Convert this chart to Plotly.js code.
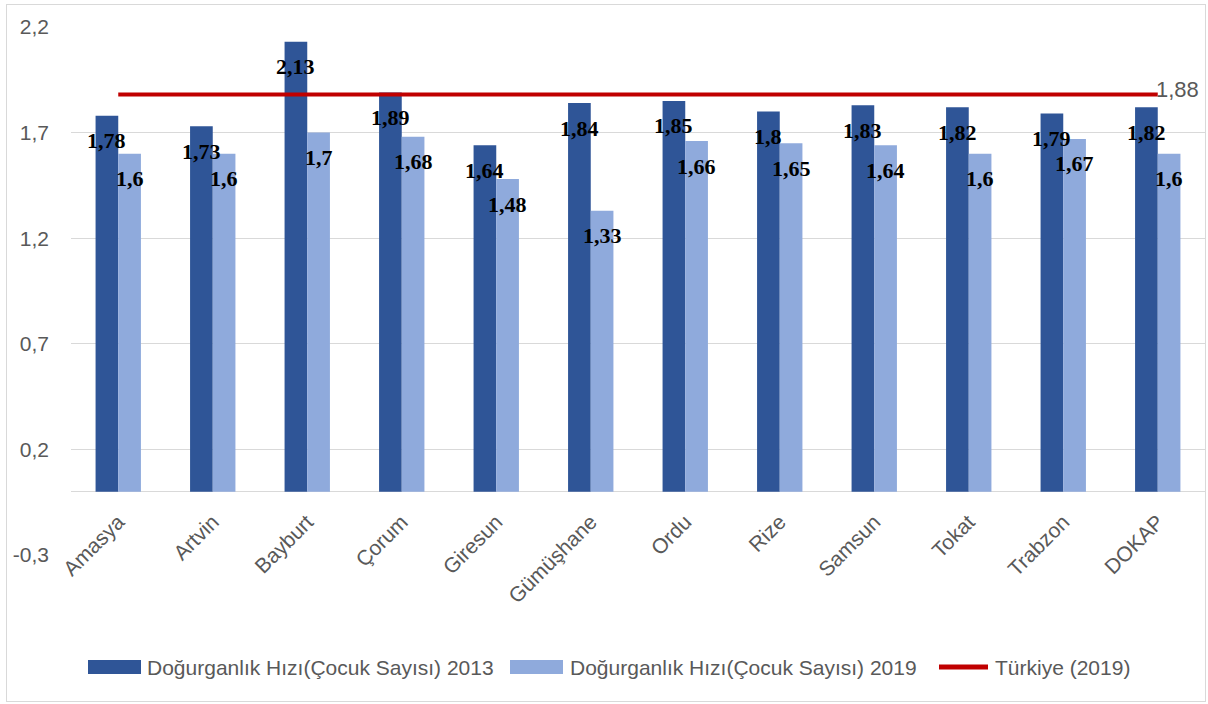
<!DOCTYPE html>
<html>
<head>
<meta charset="utf-8">
<script src="https://cdn.plot.ly/plotly-3.0.1.min.js"></script>
<style>
  html, body { margin: 0; padding: 0; background: #fff; }
  #chart { position: absolute; left: 0; top: 0; width: 1208px; height: 704px; }
  #frame { position: absolute; left: 6px; top: 4px; width: 1198px; height: 696px; border: 1px solid #d9d9d9; pointer-events: none; }
</style>
</head>
<body>
<div id="chart"></div>
<div id="frame"></div>
<script>
const categories = ["Amasya","Artvin","Bayburt","Çorum","Giresun","Gümüşhane","Ordu","Rize","Samsun","Tokat","Trabzon","DOKAP"];
const values2013 = [1.78,1.73,2.13,1.89,1.64,1.84,1.85,1.8,1.83,1.82,1.79,1.82];
const values2019 = [1.6,1.6,1.7,1.68,1.48,1.33,1.66,1.65,1.64,1.6,1.67,1.6];
const turkiye2019 = [1.88,1.88,1.88,1.88,1.88,1.88,1.88,1.88,1.88,1.88,1.88,1.88];
const seriesNames = ["Doğurganlık Hızı(Çocuk Sayısı) 2013","Doğurganlık Hızı(Çocuk Sayısı) 2019","Türkiye (2019)"];
const yTickVals = [-0.3,0.2,0.7,1.2,1.7,2.2];
const yTickText = ["-0,3","0,2","0,7","1,2","1,7","2,2"];

const C2013 = "#2F5597", C2019 = "#8FAADC", CRED = "#C00000", GRAY = "#595959";
const fmt = v => String(v).replace(".", ",");

const traces = [
  {type:"bar", name:seriesNames[0], x:categories, y:values2013, marker:{color:C2013}, showlegend:false, hoverinfo:"x+y"},
  {type:"bar", name:seriesNames[1], x:categories, y:values2019, marker:{color:C2019}, showlegend:false, hoverinfo:"x+y"},
  {type:"scatter", mode:"lines", name:seriesNames[2], x:categories, y:turkiye2019, line:{color:CRED, width:4}, showlegend:false}
];

// plot area in pixels: left 71, right 1205, top 27, bottom 555
const L = 71, R = 1205, T = 27, B = 555;
const px = x => (x - L) / (R - L);
const py = y => (B - y) / (B - T);

const annotations = [];
const halfBar = 11.3;
const labelFont = {family:"Liberation Serif, Times New Roman, serif", size:22, color:"#000", weight:"bold"};
categories.forEach((c, i) => {
  annotations.push({x:c, y:values2013[i], xref:"x", yref:"y", text:fmt(values2013[i]), showarrow:false,
    xshift:-halfBar, yshift:-25, xanchor:"center", yanchor:"middle", font:labelFont});
  annotations.push({x:c, y:values2019[i], xref:"x", yref:"y", text:fmt(values2019[i]), showarrow:false,
    xshift:halfBar, yshift:-25, xanchor:"center", yanchor:"middle", font:labelFont});
});
const last = categories.length - 1;
annotations.push({x:categories[last], y:turkiye2019[last], xref:"x", yref:"y", text:fmt(turkiye2019[last]), showarrow:false,
  xanchor:"left", yanchor:"middle", xshift:-4, yshift:5,
  font:{family:"Liberation Sans, Arial, sans-serif", size:22, color:GRAY}});

// custom legend
const legY = 667;
const legendItems = [
  {x0:88, x1:141, tx:145, color:C2013, kind:"rect", name:seriesNames[0]},
  {x0:510, x1:563, tx:568, color:C2019, kind:"rect", name:seriesNames[1]},
  {x0:937, x1:990, tx:993, color:CRED, kind:"line", name:seriesNames[2]}
];
const shapes = [];
legendItems.forEach(it => {
  if (it.kind === "rect") {
    shapes.push({type:"rect", xref:"paper", yref:"paper", x0:px(it.x0), x1:px(it.x1), y0:py(legY-7), y1:py(legY+7),
      fillcolor:it.color, line:{width:0}});
  } else {
    shapes.push({type:"line", xref:"paper", yref:"paper", x0:px(it.x0+2), x1:px(it.x1-2), y0:py(legY), y1:py(legY),
      line:{color:it.color, width:5}});
  }
  annotations.push({xref:"paper", yref:"paper", x:px(it.tx), y:py(legY), text:it.name, showarrow:false,
    xanchor:"left", yanchor:"middle", font:{family:"Liberation Sans, Arial, sans-serif", size:21, color:GRAY}});
});

const layout = {
  width:1208, height:704,
  margin:{l:L, r:1208-R, t:T, b:704-B, pad:0},
  paper_bgcolor:"rgba(0,0,0,0)", plot_bgcolor:"rgba(0,0,0,0)",
  barmode:"group", bargap:0.52, bargroupgap:0,
  showlegend:false,
  font:{family:"Liberation Sans, Arial, sans-serif", color:GRAY},
  xaxis:{type:"category", anchor:"free", position:0.12, showgrid:false, showline:false, zeroline:false,
    ticks:"", tickangle:-45, ticklabelstandoff:13, automargin:false,
    tickfont:{family:"Liberation Sans, Arial, sans-serif", size:21, color:GRAY}},
  yaxis:{range:[-0.3,2.2], tickvals:yTickVals, ticktext:yTickText, showgrid:true, gridcolor:"#d9d9d9", gridwidth:1,
    zeroline:true, zerolinecolor:"#d9d9d9", zerolinewidth:1, showline:false, ticks:"", ticklabelstandoff:21, automargin:false,
    tickfont:{family:"Liberation Sans, Arial, sans-serif", size:21, color:GRAY}},
  annotations:annotations,
  shapes:shapes
};

Plotly.newPlot("chart", traces, layout, {staticPlot:true, displayModeBar:false});
</script>
</body>
</html>
